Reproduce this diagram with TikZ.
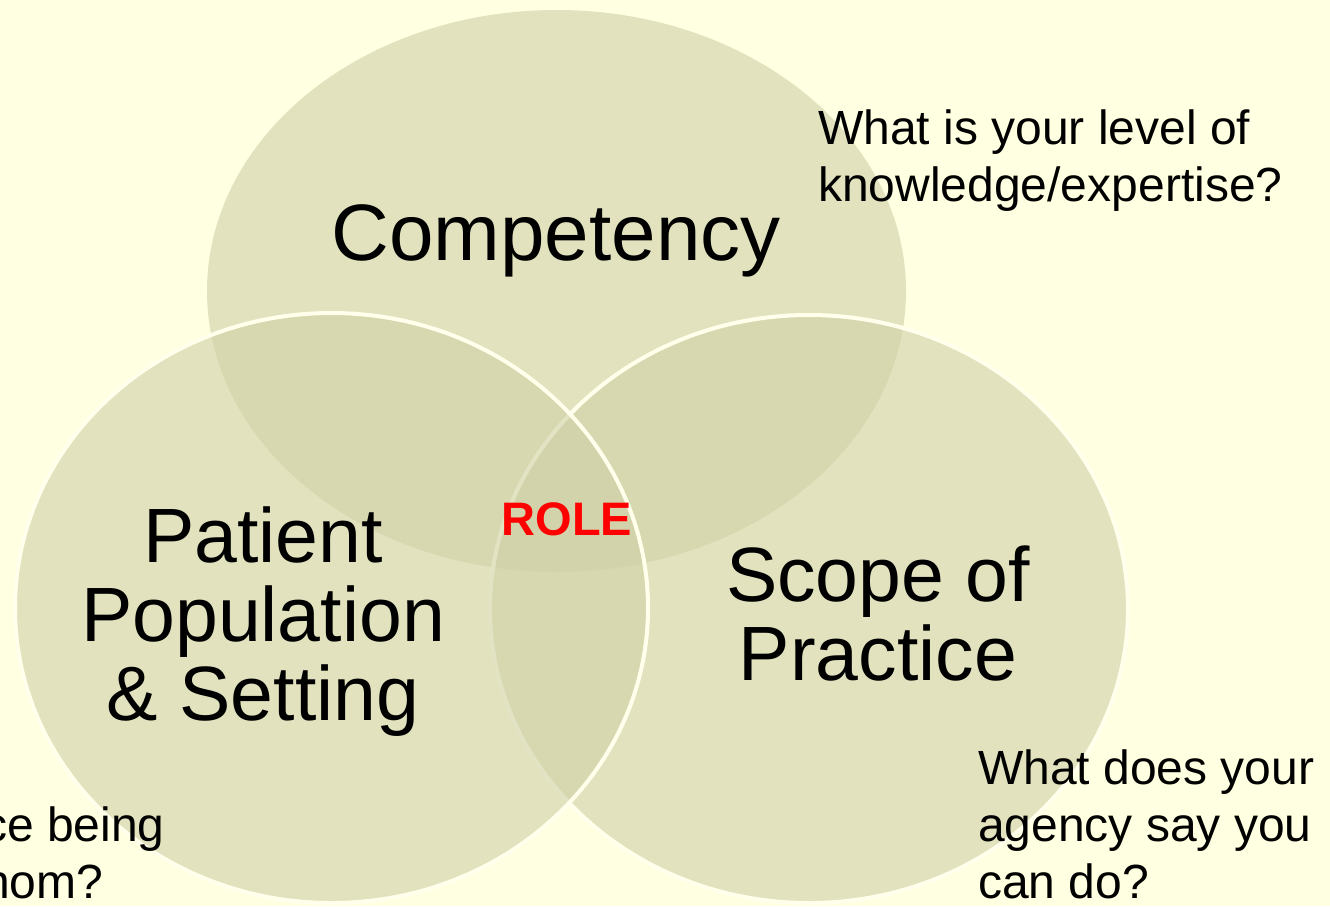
\documentclass[tikz,border=0pt]{standalone}
\usepackage{fontspec}
\setmainfont{Liberation Sans}
\usetikzlibrary{shapes.geometric}
\definecolor{paper}{RGB}{255,255,225}
\definecolor{vennfill}{RGB}{208,209,168}
\definecolor{rim}{RGB}{255,255,236}
\tikzset{venn/.style={ellipse, inner sep=0pt, fill=vennfill, fill opacity=0.6, draw=rim, line width=4pt},
title/.style={inner sep=0pt, anchor=base, align=center, font=\fontsize{77}{79}\selectfont},
ask/.style={inner sep=0pt, anchor=base west, align=left, font=\fontsize{48}{57}\selectfont}
}

\begin{document}
\begin{tikzpicture}[x=1pt, y=-1pt]
    \useasboundingbox (0,0) rectangle (1330,906);
    \fill [paper] (0,0) rectangle (1330,906);
    % Circles
    \node [venn, draw=none, minimum width=699pt, minimum height=562pt] (competency) at (556.5,291) {};
    \node [venn, minimum width=638pt, minimum height=588pt] (scope) at (809,609) {};
    \node [venn, minimum width=633pt, minimum height=590pt] (patient) at (331.5,608) {};
    % Labels (base = last line)
    \node [title, font=\fontsize{80}{82}\selectfont] (competencytext) at (556,260) {Competency};
    \node [title] (patienttext) at (263,720) {Patient\\Population\\\& Setting};
    \node [title] (scopetext) at (878,680) {Scope of\\Practice};
    \node [title, font=\fontsize{47}{47}\selectfont\bfseries, text=red] (role) at (567,535) {ROLE};
    % Questions
    \node [ask] (askcompetency) at (818,201) {What is your level of\\knowledge/expertise?};
    \node [ask] (askscope) at (978,898) {What does your\\agency say you\\can do?};
    \node [ask] (askpatient) at (-17,898) {ce being\\hom?};
\end{tikzpicture}
\end{document}
